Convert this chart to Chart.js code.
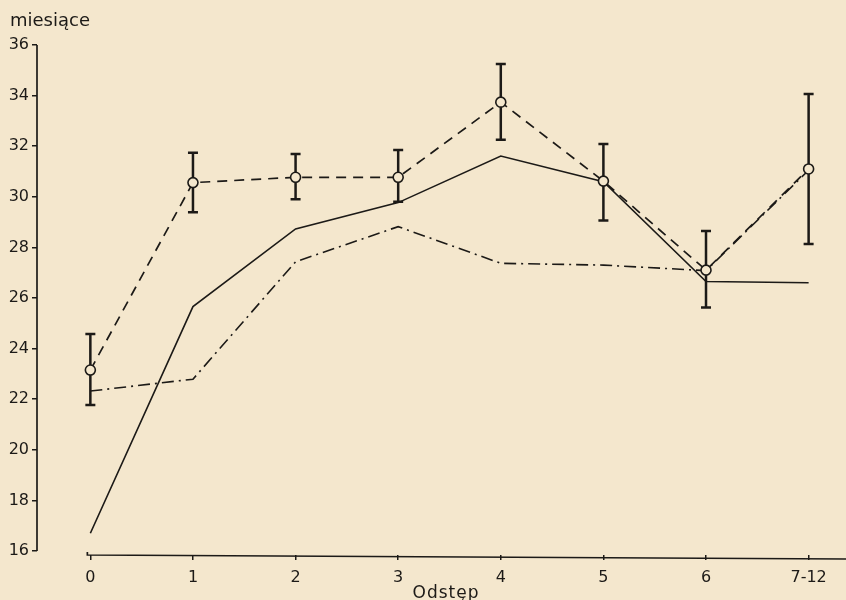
<!DOCTYPE html>
<html><head><meta charset="utf-8">
<script src="https://cdn.jsdelivr.net/npm/chart.js@4/dist/chart.umd.min.js"></script>
<style>html,body{margin:0;padding:0;background:#f4e7cd;} #wrap{width:846px;height:600px;position:relative;}</style>
</head><body><div id="wrap"><canvas id="c"></canvas></div>
<script>
const categories = ['0', '1', '2', '3', '4', '5', '6', '7-12'];
const dashedMean = [23.15, 30.56, 30.77, 30.77, 33.74, 30.62, 27.1, 31.1];
const dashedErrHigh = [24.58, 31.74, 31.69, 31.85, 35.25, 32.09, 28.65, 34.06];
const dashedErrLow = [21.77, 29.39, 29.9, 29.8, 32.25, 29.06, 25.62, 28.13];
const solidValues = [16.7, 25.66, 28.73, 29.77, 31.61, 30.6, 26.65, 26.6];
const dashDotValues = [22.32, 22.79, 27.43, 28.82, 27.37, 27.3, 27.08, 31.05];
const yTicks = [16, 18, 20, 22, 24, 26, 28, 30, 32, 34, 36];
const yTitle = 'miesiące';
const xTitle = 'Odstęp';

const BG = '#f4e7cd';
const INK = '#1c1a17';
const FONT = '"DejaVu Sans", sans-serif';

const toXY = arr => arr.map((v, i) => ({x: i, y: v}));

const bgPlugin = {
  id: 'bg',
  beforeDraw(chart) {
    const c = chart.ctx;
    c.save(); c.fillStyle = BG; c.fillRect(0, 0, chart.width, chart.height); c.restore();
  }
};

const errPlugin = {
  id: 'errbars',
  beforeDatasetsDraw(chart) {
    const c = chart.ctx, xs = chart.scales.x, ys = chart.scales.y;
    c.save();
    c.strokeStyle = INK; c.lineWidth = 2.5; c.lineCap = 'butt';
    dashedMean.forEach((m, i) => {
      const px = xs.getPixelForValue(i);
      const y1 = ys.getPixelForValue(dashedErrHigh[i]);
      const y2 = ys.getPixelForValue(dashedErrLow[i]);
      c.beginPath();
      c.moveTo(px, y1); c.lineTo(px, y2);
      c.moveTo(px - 5, y1); c.lineTo(px + 5, y1);
      c.moveTo(px - 5, y2); c.lineTo(px + 5, y2);
      c.stroke();
    });
    c.restore();
  }
};

const axesPlugin = {
  id: 'axeslines',
  afterDraw(chart) {
    const c = chart.ctx, xs = chart.scales.x, ys = chart.scales.y, a = chart.chartArea;
    c.save();
    c.strokeStyle = INK; c.lineWidth = 1.7;
    c.beginPath();
    c.moveTo(a.left, ys.getPixelForValue(yTicks[yTicks.length - 1]));
    c.lineTo(a.left, ys.getPixelForValue(yTicks[0]));
    c.stroke();
    const x0 = xs.getPixelForValue(0) - 3;
    c.beginPath();
    c.moveTo(x0, a.bottom - 3);
    c.lineTo(x0, a.bottom);
    c.lineTo(chart.width, a.bottom + 4);
    c.stroke();
    c.fillStyle = INK;
    c.font = '18px ' + FONT;
    c.textBaseline = 'alphabetic';
    c.textAlign = 'left';
    c.fillText(yTitle, 10, 26);
    c.font = '17px ' + FONT;
    c.textAlign = 'center';
    try { c.letterSpacing = '1px'; } catch (e) {}
    c.fillText(xTitle, 446, 598);
    c.restore();
  }
};

new Chart(document.getElementById('c'), {
  type: 'line',
  data: {
    datasets: [
      {
        label: 'dashed',
        data: toXY(dashedMean),
        borderColor: INK, borderWidth: 1.7, borderDash: [10, 7],
        pointRadius: 5, pointBackgroundColor: BG, pointBorderColor: INK, pointBorderWidth: 1.6,
        tension: 0, clip: false
      },
      {
        label: 'solid',
        data: toXY(solidValues),
        borderColor: INK, borderWidth: 1.6,
        pointRadius: 0, tension: 0, clip: false
      },
      {
        label: 'dashdot',
        data: toXY(dashDotValues),
        borderColor: INK, borderWidth: 1.6, borderDash: [12, 5, 2, 5],
        pointRadius: 0, tension: 0, clip: false
      }
    ]
  },
  options: {
    responsive: true, maintainAspectRatio: false, animation: false,
    devicePixelRatio: 1,
    layout: {padding: {top: 45, left: 0, right: 0, bottom: 0}},
    plugins: {legend: {display: false}, tooltip: {enabled: false}, title: {display: false}},
    scales: {
      x: {
        type: 'linear', min: -0.52, max: 7.30,
        afterBuildTicks: s => { s.ticks = categories.map((_, i) => ({value: i})); },
        afterFit: s => { s.height = 45; },
        ticks: {
          callback: v => categories[v] ?? '',
          color: INK, font: {family: FONT, size: 16}, padding: 8, maxRotation: 0, autoSkip: false
        },
        grid: {drawOnChartArea: false, drawTicks: true, tickLength: 5, color: INK, lineWidth: 1.5},
        border: {display: false}
      },
      y: {
        type: 'linear', min: 15.84, max: 36,
        afterBuildTicks: s => { s.ticks = yTicks.map(v => ({value: v})); },
        afterFit: s => { s.width = 37; },
        ticks: {color: INK, font: {family: FONT, size: 16}, padding: 3},
        grid: {drawOnChartArea: false, drawTicks: true, tickLength: 5, color: INK, lineWidth: 1.5},
        border: {display: false}
      }
    }
  },
  plugins: [bgPlugin, errPlugin, axesPlugin]
});
</script>
</body></html>
